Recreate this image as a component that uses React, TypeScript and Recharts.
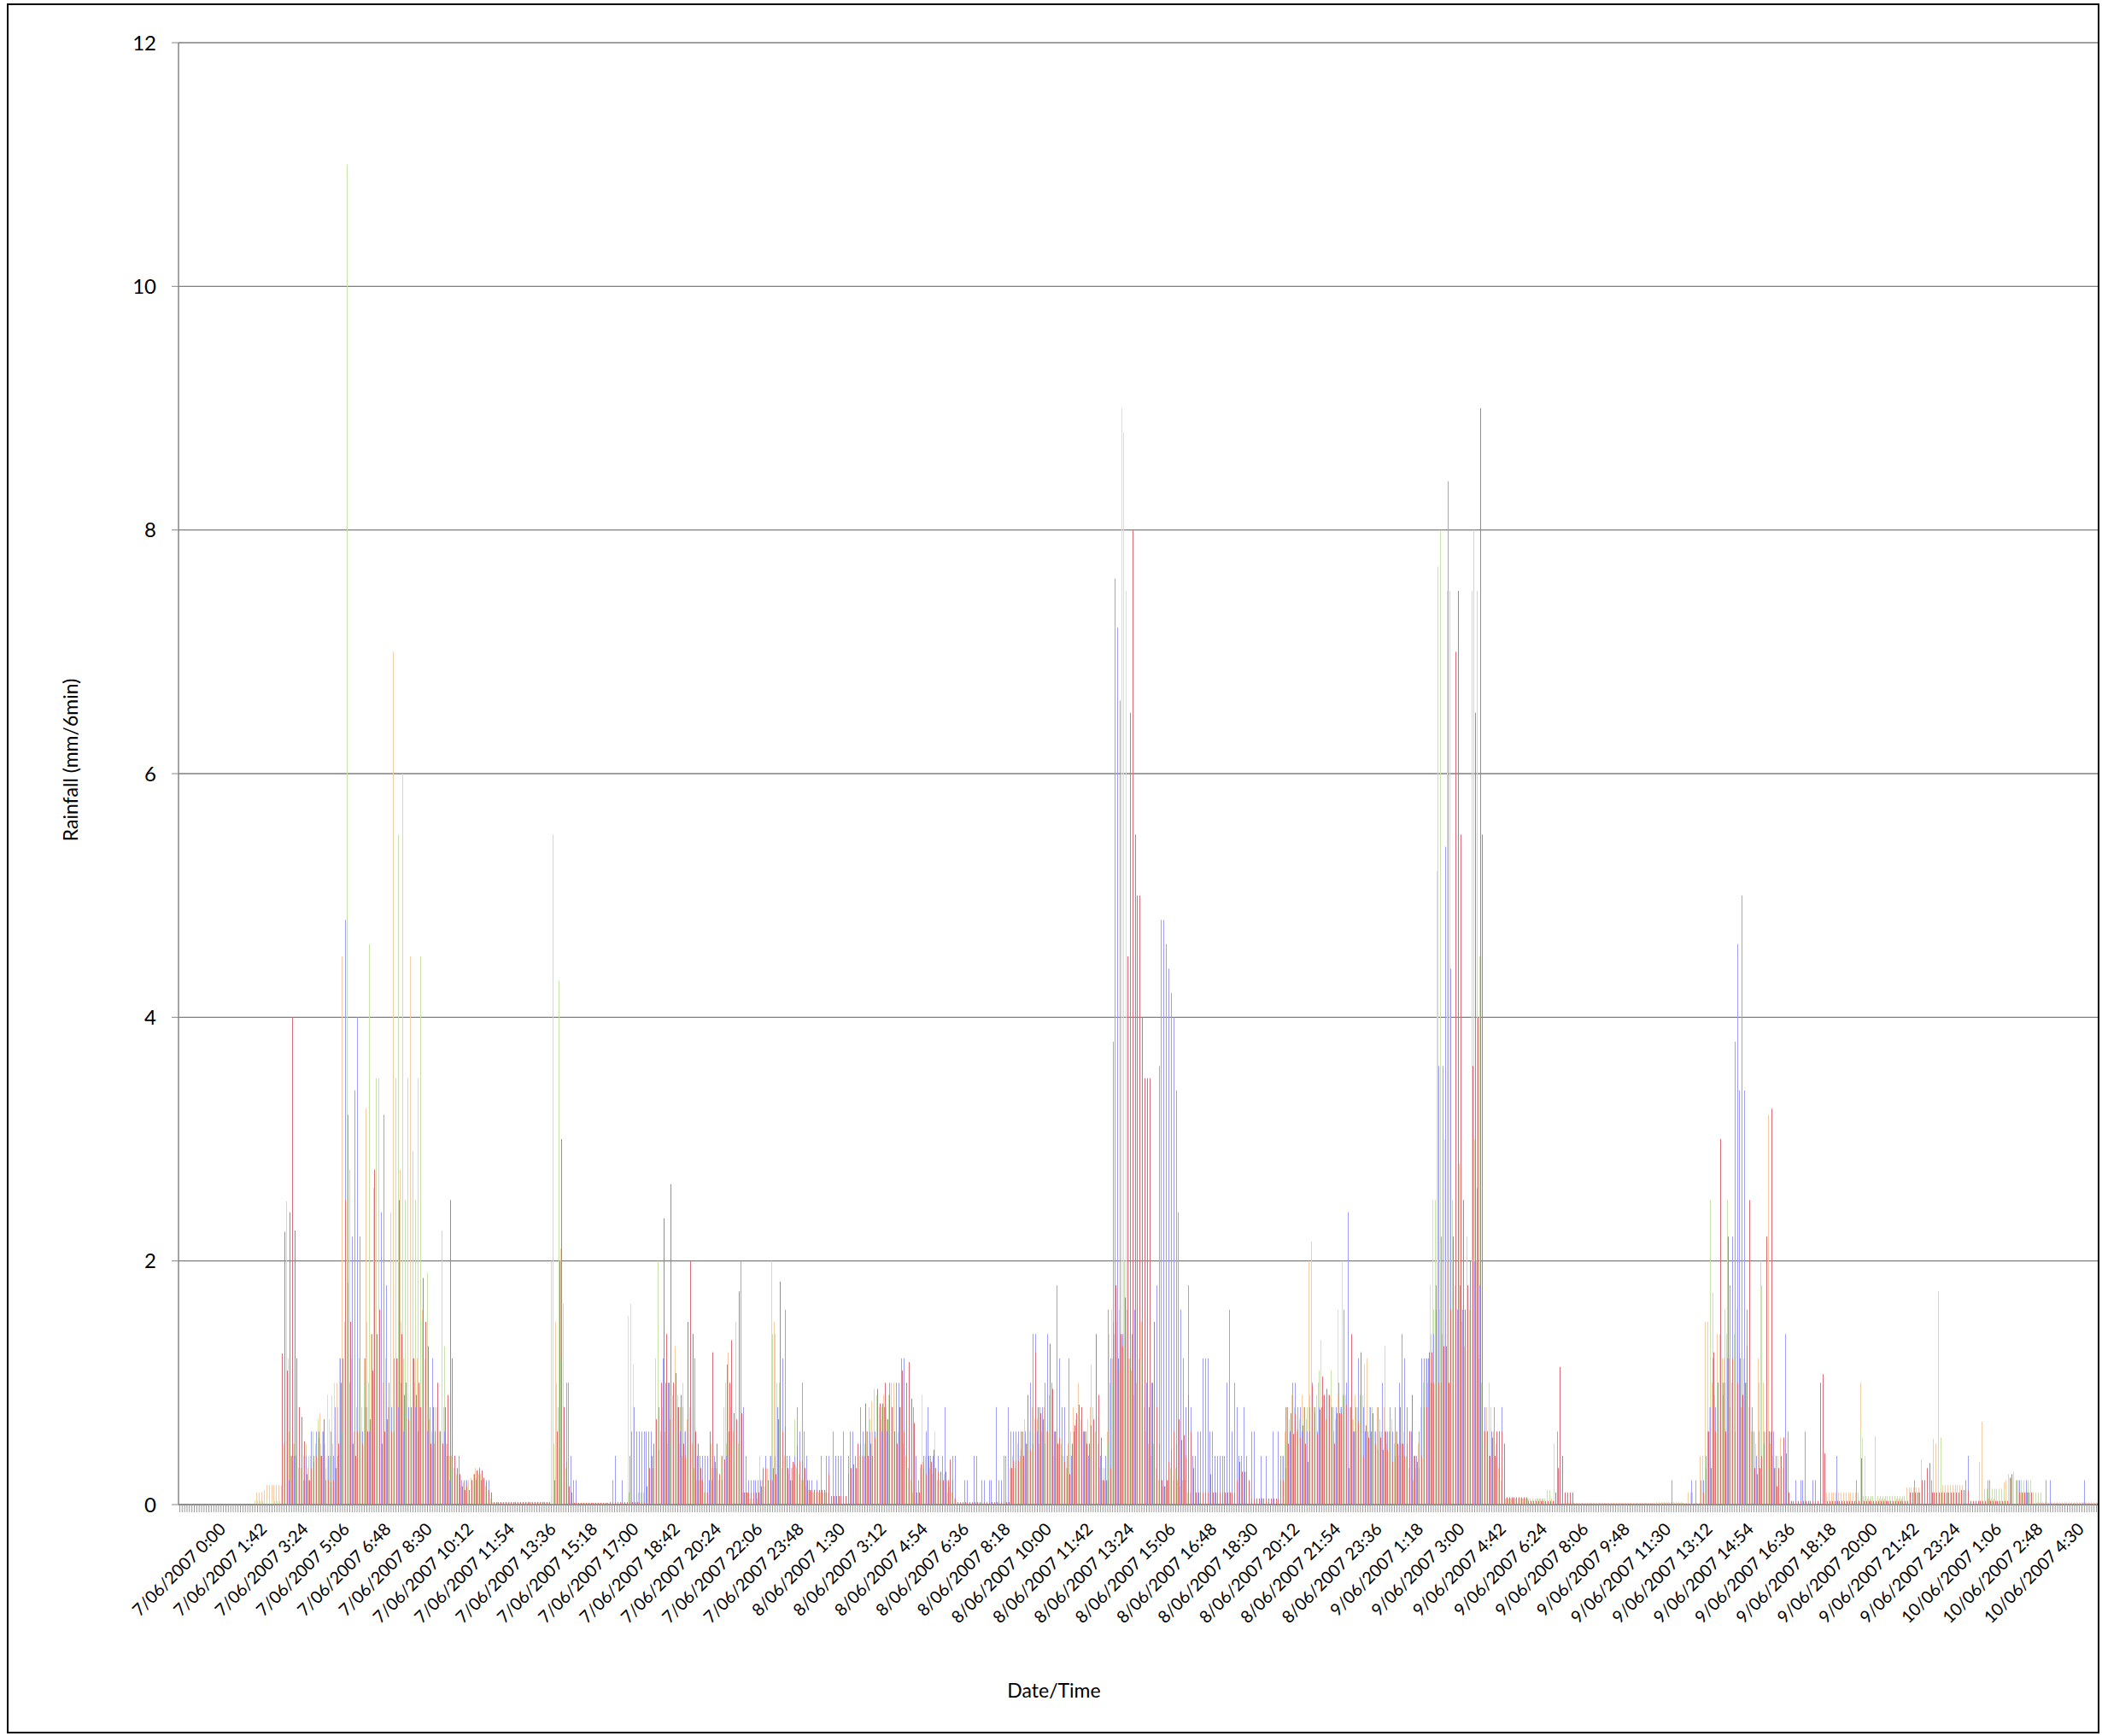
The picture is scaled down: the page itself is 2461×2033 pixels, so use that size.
import React from 'react';
import { BarChart, Bar, XAxis, YAxis, CartesianGrid } from 'recharts';

// 6-minute rainfall, 7/06/2007 0:00 onward, 790 intervals
const N = 790;
const START_DAY = 7;
const LABEL_EVERY = 17; // a date label every 1h42
const LAST_LABEL = 765; // 10/06/2007 4:30 is the last label shown
const yTicks = [0, 2, 4, 6, 8, 10, 12];

// bursts: [first interval index, values...]; runs: [from, to, flat value]
const redBursts: [number, number[]][] = [
  [42, [1.24, 2.24, 1.1, 2.4, 4.0, 2.25, 1.2, 0.8, 0.72, 0.52, 0.25, 0.2, 0.3, 0.35, 0.4, 0.55, 0.4, 0.7, 0.2, 0.2, 0.18, 0.2, 0.3, 0.5]],
  [66, [1.0, 1.2, 2.5, 1.82, 1.5, 0.5, 0.4, 0.6, 0.6, 0.5, 0.8, 0.6, 0.7, 1.1, 2.75, 1.4, 1.6, 0.5, 0.6, 0.7, 0.8, 0.6, 0.6, 1.2, 2.5, 1.4, 0.9, 1.0, 0.7, 0.8, 1.2, 0.9, 1.0, 0.8, 1.86, 1.5, 1.3, 0.5, 0.8, 0.6, 1.0, 0.6, 0.5, 0.8, 0.9, 2.5, 1.2, 0.4, 0.3, 0.25]],
  [116, [0.15, 0.12, 0.15, 0.12, 0.2, 0.25, 0.28, 0.3, 0.28, 0.22, 0.18, 0.12, 0.1]],
  [154, [0.2, 0.6, 2.0, 3.0, 0.8, 0.35, 0.15, 0.1]],
  [192, [0.15, 0.3, 0.4]],
  [195, [0.5, 0.7, 0.45, 1.0, 2.35, 1.4, 1.0, 2.63, 1.0, 1.08, 0.8, 0.9, 0.5, 0.4, 1.5, 2.0, 1.4, 0.6, 0.5, 0.3, 0.2, 0.1, 0.1, 0.6, 1.25, 0.35, 0.5, 0.25, 0.2, 0.37, 1.15, 1.0, 1.35, 0.75, 0.7, 1.75, 0.75, 0.1, 0.1, 0.1, 0.1, 0.1, 0.1, 0.1, 0.15, 0.3, 0.3]],
  [242, [0.2, 0.2, 0.3, 0.25, 0.7, 1.83, 0.6, 0.64, 0.3, 0.2, 0.35, 0.33, 0.48, 0.36, 0.36, 0.3, 0.2, 0.12, 0.12, 0.12, 0.12, 0.12, 0.12, 0.12, 0.1, 0.25, 0.07]],
  [269, [0.07, 0.07, 0.07, 0.07, 0.07, 0.07, 0.25, 0.3, 0.33, 0.3, 0.5]],
  [280, [0.5, 0.4, 0.83, 0.4, 0.5, 0.4, 0.55, 0.95, 0.83, 0.83, 1.0, 0.7, 0.9, 0.8, 0.6, 0.5, 0.8, 1.1, 0.6, 1.0, 1.17, 0.87, 0.67, 0.1, 0.1]],
  [305, [0.33, 0.3, 0.25, 0.4, 0.35, 0.45, 0.3, 0.27, 0.27, 0.2, 0.27, 0.2, 0.37, 0.2, 0.05]],
  [342, [0.3, 0.36, 0.36, 0.36, 0.45, 0.4, 0.5, 0.9, 0.45, 0.5, 1.25, 0.8, 0.75, 0.7, 0.5, 0.6, 1.32, 0.95, 0.6, 0.5, 0.55, 0.4, 0.35, 0.3, 0.25, 0.5, 0.65, 0.75, 0.82, 0.8, 0.6, 0.5, 0.5, 0.65, 0.7, 1.4, 0.9, 0.55, 0.2, 0.2, 0.2, 0.3]],
  [384, [1.5, 1.8, 1.2, 1.4, 1.3, 1.7, 4.5, 6.5, 8.0, 5.5, 5.0, 5.0, 4.0, 3.5, 3.5, 3.5, 1.0, 1.5, 0.8, 0.5, 0.2, 0.15, 0.2, 0.35, 0.45, 0.6, 0.5, 0.7, 0.53, 0.57, 0.4, 0.9, 0.6, 0.3, 0.1]],
  [419, [0.1, 0.1, 0.1, 0.1, 0.1, 0.25, 0.1, 0.1, 0.1, 0.1, 0.1, 0.1, 0.1, 0.1, 0.1, 0.1, 0.2, 0.35, 0.27, 0.27, 0.27, 0.2, 0.05, 0.05, 0.05, 0.05, 0.05, 0.05, 0.05, 0.05, 0.05, 0.05, 0.05, 0.05, 0.2]],
  [454, [0.2, 0.3, 0.5, 0.75, 0.58, 0.75, 0.62, 0.55, 0.65, 0.5, 0.35, 0.6, 0.98, 0.75, 0.58, 0.78, 1.05, 0.9, 0.95, 0.9, 0.8, 0.5, 0.75, 0.75, 0.75, 0.9, 0.82, 0.3, 1.4, 0.6, 0.6, 0.68, 1.25, 0.4, 0.65, 0.55, 0.6, 0.75, 0.5, 0.45, 0.55, 0.45, 0.6, 0.45, 0.6, 0.35, 0.4, 0.5, 0.8, 0.5, 0.4, 0.5, 0.6, 0.9, 0.4, 0.35, 0.3, 0.4]],
  [512, [0.8, 0.8, 1.25, 1.25, 1.0, 1.6, 1.0, 1.0, 1.3, 1.3, 1.0, 1.6, 2.2, 7.0, 7.5, 5.5, 2.5, 1.6, 1.8, 2.0, 3.6, 6.5, 4.0, 9.0, 5.5, 0.6, 0.6, 0.4, 0.55, 0.4, 0.6, 0.6, 0.6, 0.5]],
  [566, [0.1, 0.3, 1.13, 0.4, 0.1, 0.1, 0.1, 0.1]],
  [627, [0.1, 0.3, 0.6, 0.3, 1.25, 0.6, 1.0, 3.0, 0.9, 0.6, 2.2, 0.8, 1.2, 0.6, 1.0, 1.2, 0.9, 1.0, 1.3, 2.5, 0.6, 0.3, 0.25, 0.3, 0.4, 0.5, 2.2, 0.6, 3.25, 0.3, 0.15, 0.3, 0.4, 0.55, 0.42, 0.1]],
  [675, [1.0, 1.07, 0.42]],
  [692, [0.38]],
  [712, [0.1, 0.1, 0.1, 0.1, 0.1, 0.2, 0.2, 0.3, 0.34]],
  [753, [0.22, 0.25]],
];
const redRuns: [number, number, number][] = [
  [129, 152, 0.02], [162, 176, 0.015], [177, 191, 0.02], [320, 341, 0.02], [546, 554, 0.06], [555, 565, 0.03],
  [574, 626, 0.01], [663, 674, 0.03], [678, 691, 0.03], [693, 711, 0.03], [721, 732, 0.1], [733, 736, 0.12],
  [737, 752, 0.03], [757, 762, 0.1], [763, 789, 0.01],
];

const blueBursts: [number, number[]][] = [
  [45, [0.2, 0.4, 0.4, 1.2, 0.4, 0.2, 0.2, 0.4, 0.2, 0.6, 0.4, 0.6, 0.6, 0.4, 0.6, 0.2, 0.4, 0.6, 0.4, 0.8, 0.4]],
  [66, [1.2, 0.8, 4.8, 3.2, 1.0, 2.2, 3.4, 4.0, 2.2, 0.6, 1.2, 0.8, 0.6, 1.4, 0.8, 1.2, 1.0, 2.4, 3.2, 1.8, 1.0, 0.8, 1.2, 0.6, 0.8, 1.0, 0.6, 1.0, 0.8, 0.6, 1.2, 0.8, 0.6, 0.4, 0.8, 0.6, 0.6, 0.8, 1.2, 0.6, 0.4, 0.6, 0.4, 0.6, 0.4, 0.2, 0.8, 0.4, 0.2, 0.4]],
  [116, [0.2, 0.2, 0.2, 0, 0.2, 0, 0.2, 0, 0.2, 0, 0.2, 0.2]],
  [158, [0.2, 1.0, 1.0, 0.4, 0.2, 0.2]],
  [178, [0.2, 0.4, 0, 0, 0.2, 0, 0, 0.4, 0.6, 0.8, 0.6, 0.6, 0.6, 0.6, 0.6, 0.6, 0.6]],
  [195, [0.4, 0.6, 0.8, 0.6, 1.2, 1.0, 1.0, 0.8, 1.0, 0.6, 0.8, 0.6, 0.8, 0.6, 0.8, 1.0, 1.4, 1.2, 0.4, 0.4, 0.4, 0.4, 0.4, 0.2, 0.2, 0.4, 0.4, 0.2, 0.4, 0.2, 0.4, 0.6, 0.8, 0.4, 0.6, 1.4, 2.0, 0.8, 0.4, 0.2, 0.2, 0.2, 0.2, 0.2, 0.2, 0.2, 0.4]],
  [242, [0.2, 0.4, 0.2, 0.4, 0.8, 0.4, 1.2, 1.6, 0.4, 0.4, 0.2, 0.4, 0.8, 0.6, 1.0, 0.6, 0.4, 0.2, 0.2, 0, 0.2, 0, 0.4, 0, 0.4, 0.4, 0, 0.6, 0.4, 0.4, 0.4, 0.6, 0, 0.4, 0.6, 0.6, 0.4]],
  [279, [0.4, 0.8, 0.6, 0.4, 0.6, 0.6, 0.4, 0.6, 0.6, 0.8, 0.6, 0.8, 0.6, 1.0, 0.8, 0.6, 1.0, 1.0, 1.2, 1.2, 0.8, 0.6, 0.8, 0.8, 0.4, 0.2]],
  [305, [0.2, 0.4, 0.6, 0.8, 0.4, 0.4, 0, 0.4, 0, 0.4, 0.8, 0, 0.2, 0.4, 0.4]],
  [320, [0, 0, 0, 0.2, 0.2, 0, 0, 0.4, 0.4, 0, 0.2, 0.2, 0, 0.2, 0.2, 0, 0.8, 0.2, 0.2, 0.4, 0.4, 0.8]],
  [342, [0.6, 0.6, 0.6, 0.6, 0.6, 0.6, 0.6, 0.4, 1.0, 1.4, 1.4, 0.6, 0.8, 0.8, 1.0, 1.4, 0.6, 1.0, 0.6, 1.8, 1.2, 0.8, 0.8, 0.4, 1.2, 0.4, 0.6, 0.4, 0.6, 0.4, 0.6, 0.6, 0.4, 0.6, 0.4, 1.0, 0.6, 0.4, 0.2, 0.4, 1.6, 1.2]],
  [384, [3.8, 7.6, 7.2, 6.6, 1.4, 1.6, 1.2, 1.4, 1.4, 1.6, 1.4, 1.2, 1.4, 1.2, 1.0, 0.8, 1.0, 1.2, 1.8, 3.6, 4.8, 4.8, 4.6, 4.4, 4.2, 4.0, 3.4, 2.4, 1.6, 1.2, 0.8, 1.8, 0.8, 0.4]],
  [418, [0.4, 0.6, 0.6, 1.2, 1.2, 1.2, 0.6, 0.6, 0.4, 0.4, 0.4, 0.4, 0.4, 1.0, 1.6, 0.6, 1.0, 0.8, 0.4, 0.4, 0.8, 0.4, 0, 0.6, 0.6, 0, 0, 0.4, 0, 0.4, 0, 0, 0.6, 0, 0.6, 0.4]],
  [454, [0.4, 0.8, 0.8, 0.6, 1.0, 1.0, 0.8, 0.8, 0.6, 0.8, 0.6, 0.8, 1.0, 0.8, 0.6, 0.8, 0.8, 0.6, 0.8, 0.6, 0.8, 0.6, 0.8, 1.0, 0.8, 1.6, 1.0, 2.4, 0.8, 0.6, 0.8, 1.2, 1.2, 0.8, 0.6, 0.6, 0.8, 0.6, 0.6, 0.8, 0.6, 1.0, 0.6, 0.6, 0.8, 0.6, 0.8, 0.6, 1.0, 1.4, 1.2, 0.8, 0.6, 0.6, 0.4, 0.4, 0.6, 1.2]],
  [512, [1.2, 1.2, 1.2, 1.0, 1.4, 1.8, 3.6, 2.2, 3.6, 5.4, 8.4, 4.4, 1.4, 1.2, 1.6, 1.8, 1.6, 1.2, 1.4, 1.2, 1.6, 2.0, 2.6, 1.8, 1.2, 0.8, 0.6, 0.4, 0.6, 0.8, 0.4, 0.6, 0.8, 0.2]],
  [567, [0.6, 0.2]],
  [614, [0.2]],
  [622, [0.2, 0, 0.2, 0, 0.2]],
  [627, [0.2, 0.4, 0.6, 0.8, 1.2, 0.8, 1.0, 1.4, 1.0, 1.0, 1.2, 1.8, 2.2, 3.8, 4.6, 3.4, 5.0, 3.4, 1.6, 1.2, 0.8, 0.6, 0.4, 0.6, 0.4, 0.6, 0.4, 0.6, 0.6, 0.6, 0.4, 0.2, 0.2, 0.4, 1.4, 0.6]],
  [665, [0.2, 0, 0.2, 0.2, 0.6, 0, 0, 0.2, 0.2]],
  [682, [0.4]], [690, [0.2]], [714, [0.2]], [721, [0.2]], [735, [0.2, 0.4]], [744, [0.2, 0.2]],
  [756, [0.2, 0.2, 0, 0, 0.2]], [768, [0.2, 0, 0.2]], [784, [0.2]],
];

const greenBursts: [number, number[]][] = [
  [44, [0.4, 0.6, 0.3, 0.5, 0.4, 0.3, 0.3, 0.4, 0.5, 0.4, 0.5, 0.6, 0.5, 0.7, 0.5, 0.4, 0.3, 0.3, 0.4, 0.5, 0.6, 0.8]],
  [66, [0.5, 0.6, 1.2, 11.0, 2.75, 0.8, 1.0, 0.6, 1.2, 0.8, 1.0, 1.5, 4.6, 1.2, 2.6, 3.5, 1.0, 0.8, 1.5, 0.8, 1.0, 1.2, 0.8, 3.5, 5.5, 1.5, 1.2, 2.5, 3.5, 1.0, 2.9, 2.5, 3.5, 4.5, 1.5, 1.0, 1.9, 0.8, 0.6, 0.8, 0.5, 0.6, 0.8, 1.3, 0.5, 0.4, 0.3, 0.3, 0.25, 0.2]],
  [116, [0.1, 0.12, 0.15, 0.15, 0.18, 0.2, 0.22, 0.25, 0.2, 0.18, 0.12, 0.1, 0.05]],
  [154, [0.5, 1.0, 4.3, 1.2, 1.65, 0.3]],
  [185, [0.1, 0.1, 0.1, 0.1, 0.1, 0.1, 0.1, 0.1, 0.1]],
  [195, [0.2, 0.4, 2.0, 0.6, 0.5, 0.8, 0.6, 0.5, 0.7, 0.6, 0.9, 0.8, 1.0, 0.6, 0.5, 0.4, 0.3, 0.3, 0.2, 0.2, 0.2, 0.1, 0.1, 0.2, 0.3, 0.2, 0.3, 0.2, 0.3, 0.4, 0.5, 0.6, 0.7, 0.5, 0.8, 0.5, 0.4, 0.2, 0.1]],
  [242, [0.2, 0.3, 1.4, 1.4, 0.8, 1.0, 0.3, 0.3, 0.3, 0.2, 0.3, 0.7, 0.3, 0.25, 0.2, 0.2, 0.15, 0.1, 0.1]],
  [280, [0.4, 0.4, 0.5, 0.6, 0.7, 0.6, 0.95, 0.9, 0.7, 0.8, 0.6, 0.7, 0.9, 0.8, 0.6, 0.5, 0.6, 0.5, 0.4, 0.3, 0.3, 0.2, 0.2]],
  [305, [0.2, 0.3, 0.25, 0.3, 0.2, 0.3, 0.2, 0.2, 0.15, 0.2, 0.1, 0.1, 0.1, 0.05, 0.02]],
  [342, [0.2, 0.3, 0.3, 0.4, 0.3, 0.5, 0.6, 0.4, 0.5, 0.6, 0.7, 0.5, 0.6, 0.8, 0.5, 0.6, 0.9, 0.7, 0.5, 0.4, 0.6, 0.5, 0.4, 0.3, 0.3, 0.4, 0.5, 0.6, 0.5, 0.7, 0.5, 0.6, 0.4, 1.15, 0.8, 0.6, 0.5, 0.4, 0.3, 0.3, 0.5, 0.8]],
  [384, [1.0, 1.2, 0.8, 1.4, 1.2, 2.0, 1.6, 1.2, 1.0, 0.8, 1.4, 1.0, 1.2, 0.8, 0.6, 0.5, 0.4, 0.5, 0.3, 0.2, 0.2, 0.1, 0.1, 0.2, 0.3, 0.2, 0.3, 0.2, 0.2, 0.3, 0.2, 0.1, 0.1, 0.1]],
  [454, [0.3, 0.5, 0.7, 0.6, 0.8, 0.7, 0.5, 0.6, 0.7, 0.6, 0.8, 0.9, 2.16, 0.8, 0.6, 1.1, 0.7, 0.8, 0.6, 0.9, 1.1, 0.7, 0.6, 0.8, 0.7, 0.9, 0.6, 0.5, 0.8, 0.7, 0.6, 0.8, 0.9, 0.7, 0.6, 0.5, 0.7, 0.8, 0.6, 0.5, 0.7, 0.6, 1.3, 0.5, 0.6, 0.4, 0.5, 0.6, 0.4, 0.5, 0.3, 0.4, 0.3, 0.2, 0.3, 0.2, 0.4, 0.8]],
  [512, [1.0, 1.2, 1.2, 1.4, 1.6, 2.5, 7.7, 8.0, 2.0, 3.0, 1.5, 7.5, 2.5, 1.8, 1.5, 1.6, 1.2, 1.4, 2.2, 1.6, 2.0, 3.0, 7.5, 4.5, 1.0, 0.6, 0.5, 0.4, 0.5, 0.4, 0.3, 0.2]],
  [563, [0.12, 0.12]],
  [627, [0.2, 0.4, 0.8, 2.5, 1.74, 0.8, 1.0, 1.4, 1.2, 1.6, 2.5, 1.2, 1.0, 1.4, 1.6, 2.0, 2.4, 1.4, 1.0, 0.8, 0.6, 0.5, 0.4, 1.0, 1.8, 0.5, 0.4, 0.3, 0.2, 0.2]],
  [692, [0.6]], [698, [0.56]], [724, [1.75, 0.55]], [755, [0.27]],
];
const greenRuns: [number, number, number][] = [
  [31, 43, 0.03], [546, 562, 0.05], [608, 618, 0.02], [693, 711, 0.07], [743, 751, 0.13], [756, 762, 0.2], [763, 766, 0.1],
];

const orangeBursts: [number, number[]][] = [
  [31, [0.03, 0.1, 0.1, 0.1, 0.12, 0.16, 0.16, 0.16, 0.16, 0.16, 0.16, 0.16]],
  [43, [0.5, 2.49, 1.2, 0.4, 0.5, 0.4, 0.3, 0.3, 0.25, 0.2, 0.3, 0.4, 0.35, 0.45, 0.6, 0.75, 0.6, 0.4, 0.3, 0.2, 0.4, 0.6, 1.0]],
  [66, [1.2, 4.5, 1.5, 1.0, 0.8, 1.2, 0.6, 0.8, 1.0, 0.6, 1.2, 3.25, 1.0, 1.4, 1.0, 1.2, 3.5, 0.8, 1.0, 1.2, 0.8, 2.4, 7.0, 1.5, 1.2, 2.75, 6.0, 1.5, 1.0, 4.5, 1.5, 1.0, 1.2, 0.8, 1.6, 1.2, 0.8, 0.7, 0.6, 0.5, 0.8, 0.6, 2.25, 0.8, 0.5, 0.4, 0.4, 0.3, 0.2, 0.2]],
  [116, [0.15, 0.18, 0.2, 0.2, 0.22, 0.25, 0.3, 0.28, 0.25, 0.2, 0.15, 0.12, 0.05]],
  [153, [2.0, 5.5, 1.5, 0.8, 2.1, 0.5, 0.2]],
  [195, [0.3, 1.2, 0.5, 0.6, 0.8, 0.6, 0.5, 0.7, 0.9, 1.3, 0.6, 0.5, 0.4, 0.6, 0.7, 0.8, 0.5, 0.3, 0.2, 0.2, 0.1, 0.1, 0.1, 0.2, 0.5, 0.3, 0.3, 0.2, 0.4, 0.8, 1.0, 1.25, 0.8, 0.6, 1.5, 0.5, 0.3, 0.1, 0.1, 0.1, 0.05, 0.05, 0.05, 0.05, 0.4, 0.2, 0.15]],
  [242, [0.3, 0.4, 2.0, 1.5, 1.0, 0.5, 0.3, 0.4, 0.3, 0.25, 0.3, 0.35, 0.3, 0.25, 0.2, 0.2, 0.15, 0.12, 0.12, 0.1, 0.1, 0.1, 0.1, 0.1, 0.1, 0.1]],
  [280, [0.3, 0.4, 0.5, 0.6, 0.8, 0.85, 0.6, 0.7, 0.8, 0.7, 0.9, 0.8, 0.8, 1.0, 1.0, 0.7, 0.6, 0.8, 0.5, 0.4, 0.3, 0.2, 0.1]],
  [305, [0.3, 0.35, 0.4, 0.3, 0.3, 0.25, 0.3, 0.2, 0.2, 0.2, 0.25, 0.2, 0.15, 0.1, 0.05]],
  [342, [0.3, 0.4, 0.3, 0.5, 0.4, 0.6, 0.7, 0.5, 0.6, 0.8, 0.6, 0.7, 0.5, 0.6, 0.8, 0.6, 0.7, 0.5, 0.4, 0.6, 0.5, 0.4, 0.3, 0.3, 0.5, 0.6, 0.8, 0.7, 1.0, 0.6, 0.5, 0.6, 0.7, 0.8, 0.6, 0.5, 0.4, 0.3, 0.2, 0.3, 0.6, 1.0]],
  [384, [1.2, 1.0, 1.4, 1.1, 1.3, 1.6, 1.2, 1.0, 1.1, 0.9, 1.0, 1.2, 1.5, 0.8, 0.6, 0.5, 0.4, 0.3, 0.3, 0.2, 0.2, 0.15, 0.15, 0.2, 0.3, 0.2, 0.25, 0.2, 0.15, 0.2, 0.1, 0.1, 0.1, 0.1]],
  [454, [0.4, 0.6, 0.8, 0.7, 0.9, 0.8, 0.6, 0.7, 0.9, 0.8, 0.7, 2.0, 1.0, 0.8, 0.9, 1.0, 0.8, 0.9, 0.7, 0.8, 1.0, 0.8, 0.7, 0.9, 0.8, 0.7, 0.9, 0.6, 0.8, 0.7, 0.9, 0.8, 0.7, 0.9, 1.15, 1.2, 0.8, 0.7, 0.6, 0.8, 0.7, 0.6, 0.8, 0.5, 0.6, 0.7, 0.5, 0.6, 0.4, 0.5, 0.6, 0.4, 0.3, 0.2, 0.2, 0.3, 0.5, 0.8]],
  [512, [0.8, 1.0, 1.0, 1.2, 1.4, 1.2, 1.6, 2.0, 1.8, 1.5, 2.0, 3.0, 2.0, 1.6, 1.4, 2.8, 1.5, 1.3, 1.8, 1.5, 7.5, 8.0, 2.0, 1.2, 0.8, 0.6, 0.8, 1.0, 0.8, 0.6, 0.5, 0.3, 0.2]],
  [566, [0.5]],
  [621, [0.1, 0.1, 0.1]],
  [626, [0.4, 0.4, 1.5, 1.5, 0.8, 1.0, 0.9, 1.4, 1.35, 1.0, 1.2, 1.4, 1.2, 1.0, 1.2, 1.4, 1.0, 0.8, 1.2, 1.0, 0.8, 0.6, 0.4, 0.5, 1.2, 2.0, 1.0, 0.6, 3.2, 0.5, 0.4, 0.3, 0.4, 0.55, 0.3, 0.2]],
  [692, [1.0]], [717, [0.37]], [722, [0.54, 0.5]], [741, [0.35, 0.68]], [751, [0.18, 0.2, 0.25, 0.22]],
];
const orangeRuns: [number, number, number][] = [
  [129, 152, 0.02], [160, 176, 0.015], [546, 565, 0.05], [570, 620, 0.015], [678, 691, 0.1], [693, 710, 0.05],
  [711, 716, 0.14], [726, 734, 0.16], [744, 750, 0.05], [755, 762, 0.1], [763, 789, 0.02],
];

const grayBursts: [number, number[]][] = [
  [60, [0.5, 0.9, 0.7, 0.9, 1.0]],
  [185, [1.55, 1.65, 1.15]],
  [306, [0.9]], [311, [0.6]],
  [383, [1.4, 1.6, 1.4, 1.5, 1.6, 9.0, 8.8, 7.5, 1.2, 1.0]],
  [470, [1.35]], [477, [1.6, 0.8, 2.0]],
  [515, [1.8, 2.5, 1.2, 5.2, 1.6, 1.4, 3.0, 7.5, 1.2]],
  [693, [0.55, 0.4]],
];

const seriesDefs = [
  { key: 'gray', color: '#dcdcdc', bursts: grayBursts, runs: [] as [number, number, number][] },
  { key: 'orange', color: '#f8cca5', bursts: orangeBursts, runs: orangeRuns },
  { key: 'green', color: '#c8e2aa', bursts: greenBursts, runs: greenRuns },
  { key: 'blue', color: '#9f9ffb', bursts: blueBursts, runs: [] as [number, number, number][] },
  { key: 'red', color: '#e06c79', bursts: redBursts, runs: redRuns },
];

function expand(bursts: [number, number[]][], runs: [number, number, number][]) {
  const arr: number[] = new Array(N).fill(0);
  runs.forEach(([a, b, v]) => {
    for (let i = a; i <= b && i < N; i++) arr[i] = v;
  });
  bursts.forEach(([s, vals]) => vals.forEach((v, k) => {
    if (s + k < N) arr[s + k] = v;
  }));
  return arr;
}

function timeLabel(i: number) {
  const m = i * 6;
  const day = START_DAY + Math.floor(m / 1440);
  const hh = Math.floor((m % 1440) / 60);
  const mm = m % 60;
  return `${day}/06/2007 ${hh}:${mm < 10 ? '0' + mm : mm}`;
}

const expanded = seriesDefs.map((s) => expand(s.bursts, s.runs));
const rows = Array.from({ length: N }, (_, i) => {
  const r: Record<string, number | string> = { t: timeLabel(i) };
  seriesDefs.forEach((s, k) => { r[s.key] = expanded[k][i]; });
  return r;
});
const catIndex = new Map<string, number>(rows.map((r, i) => [r.t as string, i]));

const FONT = 'Lato, "Open Sans", sans-serif';

// Excel draws the thin bars as 1px hairlines
const Hairline = (props: any) => {
  const { x, y, width, height, fill } = props;
  if (!height || height <= 0) return <g />;
  return <rect x={Math.floor(x + width / 2)} y={y} width={1} height={height} fill={fill} />;
};

const XTick = (props: any) => {
  const { x, y, payload } = props;
  const idx = catIndex.get(payload.value);
  if (idx === undefined || idx % LABEL_EVERY !== 0 || idx > LAST_LABEL) return <g />;
  const ax = x + 55;
  const ay = y + 19;
  return (
    <text x={ax} y={ay} textAnchor="end" fontSize={20} fontFamily={FONT} fill="#000"
      transform={`rotate(-45 ${ax} ${ay})`}>
      {payload.value}
    </text>
  );
};

export default function App() {
  return (
    <div style={{ position: 'absolute', left: 0, top: 0, width: 2461, height: 2033, background: '#fff' }}>
      <div style={{ position: 'absolute', left: 8, top: 4, width: 2450, height: 2026, border: '2px solid #000', boxSizing: 'border-box' }} />
      <div style={{ position: 'absolute', left: 0, top: 0 }}>
        <BarChart width={2461} height={2033} data={rows} margin={{ top: 50, right: 5, left: 150, bottom: 60 }}
          barCategoryGap="10%" barGap={0}>
          <CartesianGrid vertical={false} stroke="#7f7f7f" strokeWidth={1.4} />
          <XAxis dataKey="t" interval={0} height={211} tickSize={9} tick={<XTick />}
            axisLine={{ stroke: '#868686', strokeWidth: 1.5 }} tickLine={{ stroke: '#9a9a9a' }} />
          <YAxis domain={[0, 12]} ticks={yTicks} width={59} tickSize={8} tickMargin={18}
            axisLine={{ stroke: '#868686', strokeWidth: 1.5 }} tickLine={{ stroke: '#868686' }}
            tick={{ fontSize: 24, fontFamily: FONT, fill: '#000' }} />
          {seriesDefs.map((s) => (
            <Bar key={s.key} dataKey={s.key} fill={s.color} isAnimationActive={false} shape={<Hairline />} />
          ))}
        </BarChart>
      </div>
      <div style={{ position: 'absolute', left: 82, top: 890, transform: 'translate(-50%, -50%) rotate(-90deg)', fontFamily: FONT, fontSize: 23, whiteSpace: 'nowrap' }}>
        Rainfall (mm/6min)
      </div>
      <div style={{ position: 'absolute', left: 1234, top: 1979, transform: 'translate(-50%, -50%)', fontFamily: FONT, fontSize: 23, whiteSpace: 'nowrap' }}>
        Date/Time
      </div>
    </div>
  );
}
